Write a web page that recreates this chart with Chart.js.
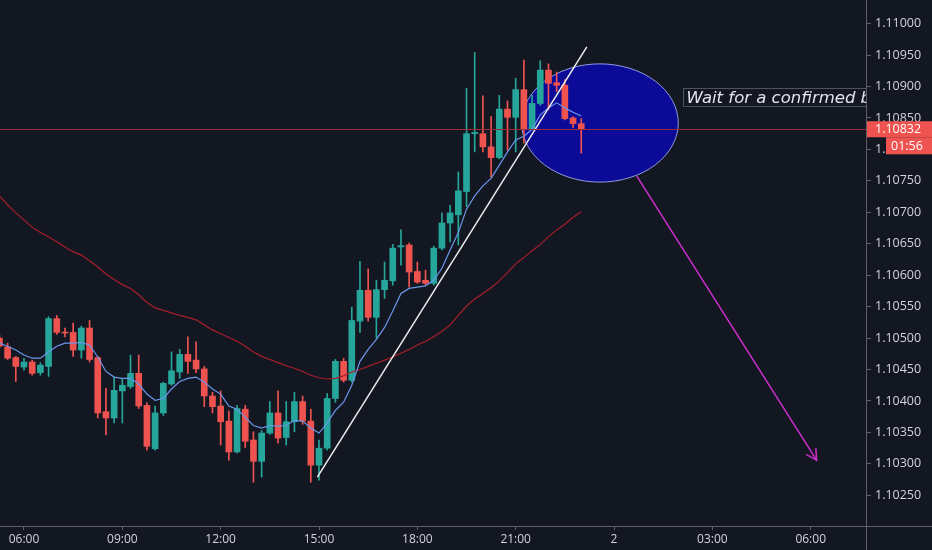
<!DOCTYPE html>
<html>
<head>
<meta charset="utf-8">
<script src="https://cdn.jsdelivr.net/npm/chart.js@4.4.1/dist/chart.umd.min.js"></script>
<style>
html, body { margin: 0; padding: 0; background: #131722; }
canvas { display: block; }
</style>
</head>
<body>
<canvas id="myChart" width="932" height="550"></canvas>
<script>
// 15 minute candles, day 1
const times = ['05:15','05:30','05:45','06:00','06:15','06:30','06:45','07:00','07:15','07:30','07:45','08:00',
  '08:15','08:30','08:45','09:00','09:15','09:30','09:45','10:00','10:15','10:30','10:45','11:00',
  '11:15','11:30','11:45','12:00','12:15','12:30','12:45','13:00','13:15','13:30','13:45','14:00',
  '14:15','14:30','14:45','15:00','15:15','15:30','15:45','16:00','16:15','16:30','16:45','17:00',
  '17:15','17:30','17:45','18:00','18:15','18:30','18:45','19:00','19:15','19:30','19:45','20:00',
  '20:15','20:30','20:45','21:00','21:15','21:30','21:45','22:00','22:15','22:30','22:45','23:00'];

const opens = [1.10500,1.10486,1.10469,1.10454,1.10462,1.10445,1.10455,1.10531,1.10509,1.10509,1.10481,1.10516,
  1.10469,1.10383,1.10373,1.10416,1.10423,1.10444,1.10393,1.10324,1.10381,1.10427,1.10446,1.10474,
  1.10465,1.10451,1.10408,1.10392,1.10368,1.10319,1.10387,1.10338,1.10304,1.10349,1.10381,1.10342,
  1.10367,1.10399,1.10368,1.10298,1.10325,1.10404,1.10463,1.10433,1.10527,1.10576,1.10533,1.10577,
  1.10591,1.10645,1.10648,1.10606,1.10592,1.10587,1.10643,1.10683,1.10696,1.10733,1.10825,1.10825,
  1.10804,1.10787,1.10864,1.10851,1.10895,1.10833,1.10873,1.10926,1.10906,1.10902,1.10850,1.10841];

const highs = [1.10505,1.10492,1.10471,1.10468,1.10465,1.10461,1.10534,1.10536,1.10516,1.10524,1.10519,1.10528,
  1.10471,1.10420,1.10438,1.10436,1.10473,1.10473,1.10397,1.10392,1.10430,1.10478,1.10482,1.10502,
  1.10494,1.10455,1.10414,1.10416,1.10384,1.10393,1.10393,1.10351,1.10353,1.10399,1.10416,1.10399,
  1.10414,1.10408,1.10387,1.10338,1.10412,1.10466,1.10468,1.10549,1.10622,1.10610,1.10592,1.10621,
  1.10649,1.10672,1.10651,1.10621,1.10608,1.10646,1.10699,1.10711,1.10764,1.10897,1.10954,1.10885,
  1.10852,1.10886,1.10877,1.10913,1.10942,1.10886,1.10941,1.10936,1.10923,1.10911,1.10852,1.10849];

const lows = [1.10484,1.10466,1.10431,1.10449,1.10441,1.10441,1.10439,1.10506,1.10502,1.10471,1.10468,1.10462,
  1.10373,1.10346,1.10365,1.10365,1.10420,1.10388,1.10322,1.10322,1.10377,1.10425,1.10436,1.10444,
  1.10445,1.10391,1.10381,1.10330,1.10306,1.10317,1.10326,1.10271,1.10279,1.10347,1.10333,1.10330,
  1.10351,1.10363,1.10271,1.10274,1.10322,1.10398,1.10430,1.10430,1.10509,1.10527,1.10500,1.10563,
  1.10584,1.10616,1.10581,1.10587,1.10585,1.10584,1.10640,1.10653,1.10648,1.10709,1.10796,1.10796,
  1.10756,1.10785,1.10799,1.10796,1.10810,1.10831,1.10870,1.10863,1.10892,1.10847,1.10835,1.10794];

const closes = [1.10487,1.10468,1.10455,1.10462,1.10444,1.10457,1.10531,1.10509,1.10508,1.10481,1.10516,1.10466,
  1.10381,1.10373,1.10417,1.10425,1.10444,1.10392,1.10328,1.10381,1.10428,1.10448,1.10474,1.10463,
  1.10451,1.10408,1.10391,1.10367,1.10319,1.10388,1.10336,1.10304,1.10349,1.10381,1.10341,1.10367,
  1.10399,1.10368,1.10298,1.10325,1.10404,1.10463,1.10433,1.10528,1.10576,1.10533,1.10577,1.10592,
  1.10643,1.10647,1.10605,1.10589,1.10587,1.10643,1.10683,1.10699,1.10734,1.10825,1.10827,1.10804,
  1.10787,1.10864,1.10851,1.10895,1.10833,1.10873,1.10926,1.10905,1.10902,1.10849,1.10841,1.10832];

// moving averages as drawn on the picture
const maFast = [1.10492,1.10487,1.10481,1.10473,1.10468,1.10468,1.10478,1.10487,1.10492,1.10492,
  1.10493,1.10489,1.10470,1.10447,1.10438,1.10436,1.10436,1.10427,1.10411,1.10401,
  1.10404,1.10419,1.10431,1.10436,1.10438,1.10430,1.10419,1.10411,1.10392,1.10387,
  1.10374,1.10361,1.10357,1.10361,1.10360,1.10361,1.10369,1.10368,1.10357,1.10349,
  1.10365,1.10385,1.10398,1.10425,1.10463,1.10482,1.10498,1.10517,1.10543,1.10571,
  1.10579,1.10581,1.10583,1.10592,1.10611,1.10640,1.10668,1.10705,1.10726,1.10742,
  1.10754,1.10775,1.10796,1.10815,1.10821,1.10832,1.10855,1.10866,1.10874,1.10866,
  1.10859,1.10853];

const maSlow = [1.10726,1.10712,1.10699,1.10688,1.10676,1.10668,1.10661,1.10653,1.10645,1.10637,
  1.10632,1.10623,1.10613,1.10602,1.10593,1.10585,1.10579,1.10569,1.10557,1.10548,
  1.10544,1.10540,1.10536,1.10533,1.10529,1.10521,1.10513,1.10507,1.10501,1.10495,
  1.10487,1.10478,1.10471,1.10466,1.10461,1.10456,1.10452,1.10447,1.10441,1.10437,
  1.10435,1.10436,1.10440,1.10446,1.10450,1.10455,1.10460,1.10465,1.10470,1.10476,
  1.10482,1.10489,1.10495,1.10502,1.10511,1.10521,1.10536,1.10551,1.10562,1.10571,
  1.10580,1.10591,1.10604,1.10618,1.10628,1.10639,1.10649,1.10661,1.10672,1.10681,
  1.10692,1.10701];

// axis ticks (hours from midnight of day 1)
const xTickValues = [6, 9, 12, 15, 18, 21, 24, 27, 30];
const xTickLabels = ['06:00','09:00','12:00','15:00','18:00','21:00','2','03:00','06:00'];
const yTickValues = [1.1025, 1.1030, 1.1035, 1.1040, 1.1045, 1.1050, 1.1055, 1.1060,
  1.1065, 1.1070, 1.1075, 1.1080, 1.1085, 1.1090, 1.1095, 1.1100];

// drawings, in hours / price
const trendLine = [{x: 14.95, y: 1.10279}, {x: 23.17, y: 1.10963}];
const arrowLine = [{x: 24.69, y: 1.10758}, {x: 30.18, y: 1.10306}];
const ellipseBox = {from: 21.18, to: 25.96, top: 1.10936, bottom: 1.10748};
const noteBox = {at: 26.11, top: 1.10897, bottom: 1.10869, text: 'Wait for a confirmed break'};
const priceLabel = '1.10832';
const countdown = '01:56';

const upColor = '#26a69a';
const downColor = '#ef5350';
const axisColor = '#5d606b';
const textColor = '#d1d4dc';

function toHours(s) {
  var p = s.split(':');
  return +p[0] + (+p[1]) / 60;
}

var xs = times.map(toHours);
var candleColors = xs.map(function (t, i) { return closes[i] >= opens[i] ? upColor : downColor; });
var lastClose = closes[closes.length - 1];

var extras = {
  id: 'extras',
  beforeDatasetsDraw: function (chart) {
    var ctx = chart.ctx, a = chart.chartArea, x = chart.scales.x, y = chart.scales.y;
    ctx.save();
    ctx.beginPath();
    ctx.rect(a.left, a.top, a.right - a.left, a.bottom - a.top);
    ctx.clip();
    // ellipse
    var x0 = x.getPixelForValue(ellipseBox.from), x1 = x.getPixelForValue(ellipseBox.to);
    var y0 = y.getPixelForValue(ellipseBox.top), y1 = y.getPixelForValue(ellipseBox.bottom);
    ctx.beginPath();
    ctx.ellipse((x0 + x1) / 2, (y0 + y1) / 2, (x1 - x0) / 2, (y1 - y0) / 2, 0, 0, Math.PI * 2);
    ctx.fillStyle = '#0b0b98';
    ctx.fill();
    ctx.lineWidth = 1;
    ctx.strokeStyle = '#8f9be0';
    ctx.stroke();
    ctx.restore();
  },
  afterDatasetsDraw: function (chart) {
    var ctx = chart.ctx, a = chart.chartArea, x = chart.scales.x, y = chart.scales.y;
    ctx.save();
    ctx.beginPath();
    ctx.rect(a.left, a.top, a.right - a.left, a.bottom - a.top);
    ctx.clip();
    // last price line, a filled strip so it keeps its colour
    var py = Math.round(y.getPixelForValue(lastClose));
    ctx.fillStyle = '#9a2c33';
    ctx.fillRect(a.left, py, a.right - a.left, 1);
    // arrow head
    var sx = x.getPixelForValue(arrowLine[0].x), sy = y.getPixelForValue(arrowLine[0].y);
    var ex = x.getPixelForValue(arrowLine[1].x), ey = y.getPixelForValue(arrowLine[1].y);
    var ang = Math.atan2(ey - sy, ex - sx);
    ctx.strokeStyle = '#cc2fcc';
    ctx.lineWidth = 1.5;
    ctx.beginPath();
    ctx.moveTo(ex - 12 * Math.cos(ang - 0.5), ey - 12 * Math.sin(ang - 0.5));
    ctx.lineTo(ex, ey);
    ctx.lineTo(ex - 12 * Math.cos(ang + 0.5), ey - 12 * Math.sin(ang + 0.5));
    ctx.stroke();
    // note box
    var bx = Math.round(x.getPixelForValue(noteBox.at)) + 0.5;
    var bt = Math.round(y.getPixelForValue(noteBox.top)) + 0.5;
    var bb = Math.round(y.getPixelForValue(noteBox.bottom)) + 0.5;
    ctx.fillStyle = '#131722';
    ctx.fillRect(bx, bt, 260, bb - bt);
    ctx.strokeStyle = '#4e525e';
    ctx.lineWidth = 1;
    ctx.strokeRect(bx, bt, 260, bb - bt);
    ctx.fillStyle = '#e3e5ec';
    ctx.font = "italic 16.5px 'DejaVu Sans', sans-serif";
    ctx.textBaseline = 'middle';
    ctx.textAlign = 'left';
    ctx.fillText(noteBox.text, bx + 3, (bt + bb) / 2 + 1);
    ctx.restore();
  },
  afterDraw: function (chart) {
    var ctx = chart.ctx, a = chart.chartArea, y = chart.scales.y;
    ctx.save();
    // axis lines carried across the corner
    ctx.strokeStyle = axisColor;
    ctx.lineWidth = 1;
    ctx.beginPath();
    ctx.moveTo(a.right, a.bottom + 0.5);
    ctx.lineTo(chart.width, a.bottom + 0.5);
    ctx.moveTo(a.right + 0.5, a.bottom);
    ctx.lineTo(a.right + 0.5, chart.height);
    ctx.stroke();
    // price tag and countdown
    var py = y.getPixelForValue(lastClose);
    ctx.fillStyle = downColor;
    ctx.fillRect(a.right + 1, py - 8, chart.width - a.right, 16);
    ctx.fillRect(a.right + 20, py + 8, chart.width - a.right - 20, 17);
    ctx.fillStyle = '#ffffff';
    ctx.font = "12.5px 'Open Sans', sans-serif";
    ctx.textBaseline = 'middle';
    ctx.textAlign = 'left';
    ctx.fillText(priceLabel, a.right + 9, py);
    ctx.fillText(countdown, a.right + 25, py + 17);
    ctx.restore();
  }
};

Chart.defaults.font.family = "'Open Sans', sans-serif";

var ctx = document.getElementById('myChart').getContext('2d');
var myChart = new Chart(ctx, {
  type: 'bar',
  data: {
    datasets: [
      {
        type: 'line',
        label: 'trend',
        data: trendLine,
        borderColor: '#ececec',
        borderWidth: 1.5,
        pointRadius: 0,
        order: 0
      },
      {
        type: 'line',
        label: 'arrow',
        data: arrowLine,
        borderColor: '#cc2fcc',
        borderWidth: 1.5,
        pointRadius: 0,
        order: 0
      },
      {
        type: 'line',
        label: 'MA fast',
        data: xs.map(function (t, i) { return {x: t, y: maFast[i]}; }),
        borderColor: '#6b97ea',
        borderWidth: 1.2,
        pointRadius: 0,
        order: 1
      },
      {
        type: 'line',
        label: 'MA slow',
        data: xs.map(function (t, i) { return {x: t, y: maSlow[i]}; }),
        borderColor: '#a61f2b',
        borderWidth: 1.2,
        pointRadius: 0,
        order: 2
      },
      {
        label: 'bodies',
        data: xs.map(function (t, i) { return {x: t, y: [opens[i], closes[i]]}; }),
        backgroundColor: candleColors,
        barThickness: 6,
        minBarLength: 1,
        grouped: false,
        borderWidth: 0,
        order: 3
      },
      {
        label: 'wicks',
        data: xs.map(function (t, i) { return {x: t, y: [lows[i], highs[i]]}; }),
        backgroundColor: candleColors,
        barThickness: 1,
        grouped: false,
        borderWidth: 0,
        order: 4
      }
    ]
  },
  options: {
    responsive: false,
    animation: false,
    events: [],
    layout: {padding: 0},
    plugins: {
      legend: {display: false},
      tooltip: {enabled: false}
    },
    scales: {
      x: {
        type: 'linear',
        position: 'bottom',
        min: 5.268,
        max: 31.687,
        offset: false,
        afterBuildTicks: function (scale) {
          scale.ticks = xTickValues.map(function (v) { return {value: v}; });
        },
        afterFit: function (scale) {
          scale.height = 24;
          scale.paddingLeft = 0;
          scale.paddingRight = 0;
        },
        ticks: {
          autoSkip: false,
          maxRotation: 0,
          color: textColor,
          font: {size: 12},
          padding: 2,
          callback: function (value) {
            var i = xTickValues.indexOf(value);
            return i >= 0 ? xTickLabels[i] : '';
          }
        },
        grid: {drawOnChartArea: false, offset: false, color: axisColor, tickLength: 4},
        border: {display: true, color: axisColor}
      },
      y: {
        type: 'linear',
        position: 'right',
        min: 1.1020125,
        max: 1.1103753,
        beginAtZero: false,
        afterBuildTicks: function (scale) {
          scale.ticks = yTickValues.map(function (v) { return {value: v}; });
        },
        afterFit: function (scale) {
          scale.width = 66;
          scale.paddingTop = 0;
          scale.paddingBottom = 0;
        },
        ticks: {
          autoSkip: false,
          color: textColor,
          font: {size: 12.5},
          padding: 4,
          callback: function (value) { return value.toFixed(5); }
        },
        grid: {drawOnChartArea: false, color: axisColor, tickLength: 5},
        border: {display: true, color: axisColor}
      }
    }
  },
  plugins: [extras]
});
</script>
</body>
</html>
